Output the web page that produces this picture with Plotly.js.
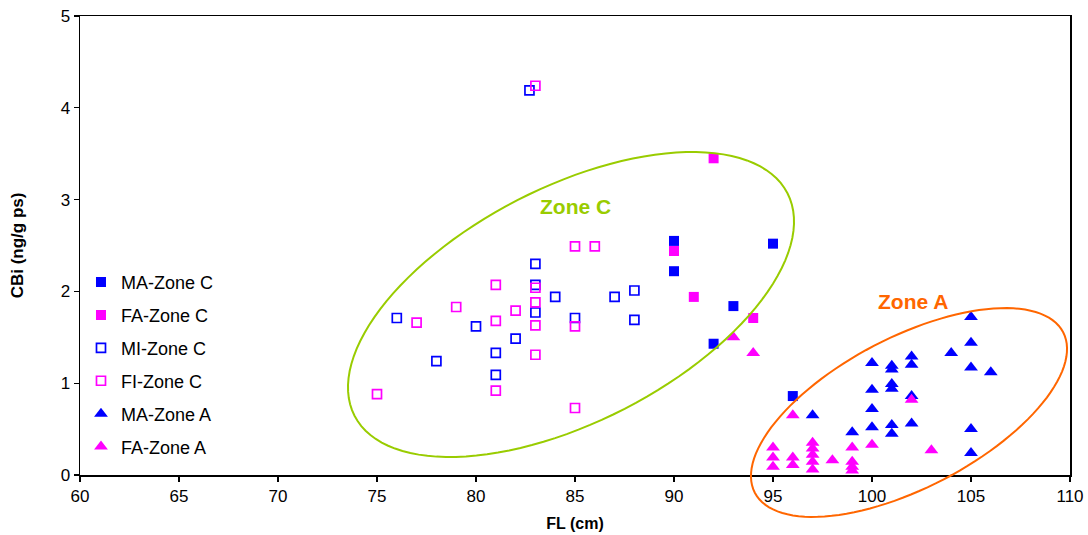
<!DOCTYPE html>
<html>
<head>
<meta charset="utf-8">
<script src="https://cdn.plot.ly/plotly-3.0.1.min.js"></script>
<style>html,body{margin:0;padding:0;background:#fff;}#chart{width:1088px;height:535px;}</style>
</head>
<body>
<div id="chart"></div>
<script>
// ---- Data (FL in cm, CBi in ng/g ps) ----
const maZoneC_x = [90, 90, 95, 93, 92, 96];
const maZoneC_y = [2.55, 2.22, 2.52, 1.84, 1.43, 0.86];

const faZoneC_x = [92, 90, 91, 94];
const faZoneC_y = [3.45, 2.44, 1.94, 1.71];

const miZoneC_x = [82.7, 83, 83, 84, 83, 76, 85, 80, 82, 81, 78, 81, 87, 88, 88];
const miZoneC_y = [4.19, 2.30, 2.07, 1.94, 1.77, 1.71, 1.71, 1.62, 1.485, 1.33, 1.24, 1.09, 1.94, 2.01, 1.69];

const fiZoneC_x = [83, 85, 86, 81, 83, 79, 82, 83, 77, 81, 83, 85, 83, 75, 81, 85];
const fiZoneC_y = [4.24, 2.49, 2.49, 2.07, 2.04, 1.83, 1.79, 1.88, 1.66, 1.68, 1.63, 1.62, 1.31, 0.88, 0.92, 0.73];

const maZoneA_x = [97, 99, 100, 100, 100, 100, 101, 101, 101, 101, 101, 101, 102, 102, 102, 102, 104, 105, 105, 105, 105, 105, 106];
const maZoneA_y = [0.65, 0.465, 1.22, 0.93, 0.72, 0.52, 1.19, 1.15, 0.99, 0.94, 0.545, 0.45, 1.29, 1.20, 0.86, 0.56, 1.33, 1.72, 1.44, 1.17, 0.50, 0.24, 1.12];

const faZoneA_x = [93, 94, 96, 95, 95, 95, 96, 96, 97, 97, 97, 97, 97, 98, 99, 99, 99, 99, 100, 102, 103];
const faZoneA_y = [1.50, 1.33, 0.65, 0.30, 0.19, 0.09, 0.19, 0.11, 0.35, 0.29, 0.22, 0.145, 0.06, 0.16, 0.30, 0.145, 0.09, 0.05, 0.33, 0.82, 0.27];

const seriesNames = ['MA-Zone C', 'FA-Zone C', 'MI-Zone C', 'FI-Zone C', 'MA-Zone A', 'FA-Zone A'];
const zoneLabels = ['Zone C', 'Zone A'];

// ---- Styling ----
const BLUE = '#0000FF', MAG = '#FF00FF', GREEN = '#99CC00', ORANGE = '#FF6600';
const FONT = 'Liberation Sans, Arial, sans-serif';

function sq(fill, color) {
  return fill ? {symbol: 'square', size: 10, color: color, line: {width: 0}}
              : {symbol: 'square-open', size: 9, color: color, line: {width: 1.7, color: color}};
}
function tri(color) { return {symbol: 'triangle-up', size: 12, color: color, line: {width: 0}}; }

const traces = [
  {x: maZoneC_x, y: maZoneC_y, name: seriesNames[0], marker: sq(true, BLUE)},
  {x: faZoneC_x, y: faZoneC_y, name: seriesNames[1], marker: sq(true, MAG)},
  {x: miZoneC_x, y: miZoneC_y, name: seriesNames[2], marker: sq(false, BLUE)},
  {x: fiZoneC_x, y: fiZoneC_y, name: seriesNames[3], marker: sq(false, MAG)},
  {x: maZoneA_x, y: maZoneA_y, name: seriesNames[4], marker: tri(BLUE)},
  {x: faZoneA_x, y: faZoneA_y, name: seriesNames[5], marker: tri(MAG)}
].map((t, i) => Object.assign(t, {type: 'scatter', mode: 'markers', cliponaxis: false, legendgroup: 'g' + i}));

// ---- Ellipse outlines (annotation shapes, in paper coordinates) ----
const W = 1088, H = 535, ML = 80, MR = 18, MT = 16, MB = 60;
const PW = W - ML - MR, PH = H - MT - MB;
function ellipsePath(cx, cy, a, b, deg) {
  const th = deg * Math.PI / 180, N = 120;
  let d = '';
  for (let k = 0; k <= N; k++) {
    const t = 2 * Math.PI * k / N;
    const px = cx + a * Math.cos(t) * Math.cos(th) + b * Math.sin(t) * Math.sin(th);
    const py = cy - a * Math.cos(t) * Math.sin(th) + b * Math.sin(t) * Math.cos(th);
    const xp = (px - ML) / PW, yp = (H - MB - py) / PH;
    d += (k === 0 ? 'M' : 'L') + xp.toFixed(5) + ',' + yp.toFixed(5);
  }
  return d + 'Z';
}

const layout = {
  width: W, height: H,
  margin: {l: ML, r: MR, t: MT, b: MB, pad: 0},
  paper_bgcolor: '#fff', plot_bgcolor: '#fff',
  font: {family: FONT, color: '#000', size: 16},
  showlegend: true,
  legend: {
    x: 0.001, y: 0.46, xanchor: 'left', yanchor: 'top',
    font: {family: FONT, size: 18, color: '#000'},
    bgcolor: 'rgba(0,0,0,0)', borderwidth: 0,
    tracegroupgap: 6.5, itemwidth: 30
  },
  xaxis: {
    range: [60, 110], dtick: 5, tick0: 60,
    showgrid: false, zeroline: false,
    showline: true, linecolor: '#000', linewidth: 1.5, mirror: true,
    ticks: 'outside', ticklen: 5, tickwidth: 1.2, tickcolor: '#000',
    tickfont: {family: FONT, size: 17},
    title: {text: '<b>FL (cm)</b>', font: {family: FONT, size: 16}, standoff: 13}
  },
  yaxis: {
    range: [0, 5], dtick: 1, tick0: 0,
    showgrid: false, zeroline: false,
    showline: true, linecolor: '#000', linewidth: 1.5, mirror: true,
    ticks: 'outside', ticklen: 5, tickwidth: 1.2, tickcolor: '#000',
    tickfont: {family: FONT, size: 17},
    title: {text: '<b>CBi (ng/g ps)</b>', font: {family: FONT, size: 17}, standoff: 32}
  },
  shapes: [
    {type: 'path', xref: 'paper', yref: 'paper', path: ellipsePath(571, 304.5, 243.4, 117.3, 27.2),
     line: {color: GREEN, width: 2}, fillcolor: 'rgba(0,0,0,0)', layer: 'above'},
    {type: 'path', xref: 'paper', yref: 'paper', path: ellipsePath(909, 412.5, 173.8, 75.3, 27.5),
     line: {color: ORANGE, width: 2}, fillcolor: 'rgba(0,0,0,0)', layer: 'above'}
  ],
  annotations: [
    {x: 85.0, y: 2.92, xref: 'x', yref: 'y', text: '<b>' + zoneLabels[0] + '</b>', showarrow: false,
     font: {family: FONT, size: 21, color: GREEN}},
    {x: 102.07, y: 1.885, xref: 'x', yref: 'y', text: '<b>' + zoneLabels[1] + '</b>', showarrow: false,
     font: {family: FONT, size: 21, color: ORANGE}}
  ]
};

Plotly.newPlot('chart', traces, layout, {staticPlot: true, displayModeBar: false});
</script>
</body>
</html>
